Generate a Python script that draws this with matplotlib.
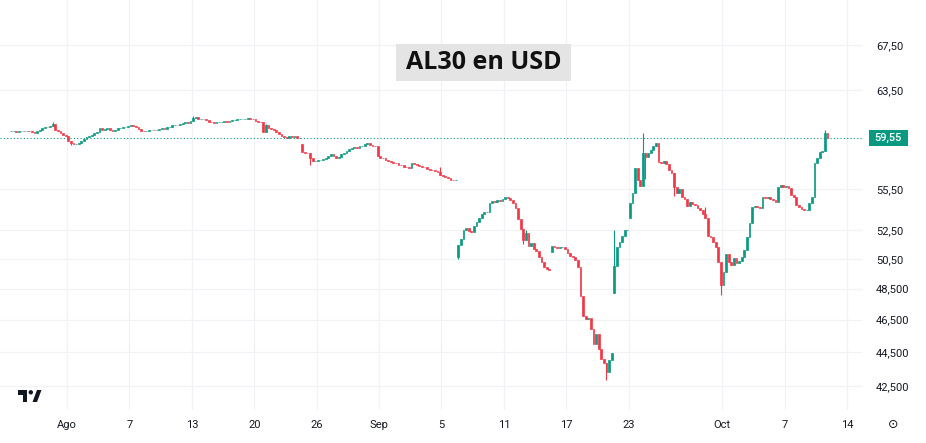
import matplotlib
matplotlib.use("Agg")
import matplotlib.pyplot as plt
from matplotlib.patches import Rectangle, Polygon, Circle
from matplotlib.transforms import IdentityTransform
from matplotlib.ticker import FixedLocator, NullLocator, NullFormatter

plt.rcParams['font.family'] = ['Roboto', 'DejaVu Sans']

# ---------------- data (hourly candles, 6 per session) ----------------
sessions = ["07-28", "07-29", "07-30", "07-31", "08-01", "08-04", "08-05", "08-06", "08-07",
            "08-08", "08-11", "08-12", "08-13", "08-14", "08-18", "08-19", "08-20", "08-21",
            "08-22", "08-25", "08-26", "08-27", "08-28", "08-29", "09-01", "09-02", "09-03",
            "09-04", "09-05", "09-08", "09-09", "09-10", "09-11", "09-12", "09-15", "09-16",
            "09-17", "09-18", "09-19", "09-22", "09-23", "09-24", "09-25", "09-26", "09-29",
            "09-30", "10-01", "10-02", "10-03", "10-06", "10-07", "10-08", "10-09", "10-13",
            "10-14"]

closes = [
    [60.05, 60.08, 60.02, 60.05],
    [60.08, 60.05, 60.10, 60.05, 60.00, 59.95],
    [60.05, 60.20, 60.35, 60.45, 60.40, 60.50],
    [60.70, 60.15, 60.05, 59.95, 59.80, 59.65],
    [59.30, 59.10, 59.00, 59.05, 59.10, 59.25],
    [59.45, 59.60, 59.70, 59.80, 59.90, 60.00],
    [60.30, 60.20, 60.25, 60.30, 60.20, 60.05],
    [60.20, 60.30, 60.35, 60.40, 60.45, 60.50],
    [60.55, 60.50, 60.40, 60.25, 60.10, 60.05],
    [60.10, 60.15, 60.20, 60.15, 60.20, 60.25],
    [60.30, 60.25, 60.40, 60.45, 60.55, 60.60],
    [60.55, 60.70, 60.75, 60.80, 60.75, 60.90],
    [61.15, 61.20, 61.10, 61.10, 61.05, 61.00],
    [60.85, 60.80, 60.75, 60.80, 60.80, 60.85],
    [60.90, 60.85, 60.95, 61.00, 61.00, 61.05],
    [61.05, 61.10, 61.10, 61.15, 61.10, 61.05],
    [60.90, 60.85, 60.80, 60.00, 60.60, 60.35],
    [60.25, 60.15, 60.00, 59.85, 59.70, 59.60],
    [59.55, 59.70, 59.60, 59.65, 59.55, 59.55],
    [58.40, 58.35, 58.30, 57.90, 57.65, 57.70],
    [57.75, 57.80, 57.85, 57.90, 58.10, 58.20],
    [58.05, 57.95, 58.00, 58.20, 58.35, 58.50],
    [58.60, 58.70, 58.80, 58.75, 58.85, 58.90],
    [59.05, 59.10, 58.95, 58.90, 58.85, 58.10],
    [57.95, 57.90, 57.80, 57.70, 57.60, 57.55],
    [57.50, 57.40, 57.35, 57.25, 57.20, 57.15],
    [57.55, 57.45, 57.35, 57.30, 57.25, 57.20],
    [57.05, 57.00, 56.95, 56.90, 56.85, 56.60],
    [56.55, 56.45, 56.35, 56.25, 56.20, 56.25],
    [51.45, 51.90, 52.55, 52.65, 52.45, 52.35],
    [52.80, 53.10, 53.40, 53.65, 53.80, 53.85],
    [54.45, 54.60, 54.55, 54.70, 54.65, 54.80],
    [54.95, 54.85, 54.70, 54.50, 54.10, 53.30],
    [52.60, 51.80, 52.30, 51.40, 51.60, 51.20],
    [51.05, 50.65, 50.30, 49.95, 49.80, 49.75],
    [51.40, 51.30, 51.25, 51.30, 51.35, 51.20],
    [50.90, 50.70, 50.60, 50.40, 49.95, 48.00],
    [46.70, 46.55, 46.60, 45.90, 45.00, 45.60],
    [44.70, 44.10, 43.85, 43.30, 44.00, 44.45],
    [49.98, 51.35, 51.65, 52.10, 52.50, 52.55],
    [54.50, 55.20, 57.17, 56.20, 55.75, 58.30],
    [58.00, 58.30, 58.58, 58.90, 59.10, 57.60],
    [57.55, 57.65, 57.45, 57.00, 56.75, 55.70],
    [55.20, 55.50, 54.95, 54.75, 54.25, 54.55],
    [54.40, 54.30, 54.10, 53.95, 53.70, 53.35],
    [52.10, 52.05, 51.65, 51.30, 50.30, 48.75],
    [49.60, 50.85, 50.30, 50.10, 50.55, 50.20],
    [50.35, 50.60, 51.10, 52.05, 53.05, 54.20],
    [54.25, 54.20, 54.15, 54.95, 54.85, 54.95],
    [54.75, 54.70, 54.55, 55.70, 55.85, 55.65],
    [55.75, 55.60, 55.10, 54.90, 54.30, 54.20],
    [54.05, 53.95, 54.00, 54.50, 54.95, 57.50],
    [57.95, 58.40, 58.45, 59.90, 59.55],
]

gap_opens = {"08-25": 59.05, "09-08": 50.60, "09-16": 51.00, "09-22": 48.20, "09-23": 53.35}

wick_highs = {("07-31", 0): 60.80, ("08-13", 0): 61.30, ("08-20", 4): 60.70,
              ("09-04", 5): 57.20, ("09-12", 2): 52.50, ("09-22", 0): 52.55,
              ("09-23", 5): 59.90, ("09-29", 5): 54.20, ("10-09", 3): 60.20}
wick_lows = {("08-01", 1): 58.95, ("08-25", 3): 57.40, ("09-08", 0): 50.50,
             ("09-19", 3): 42.86, ("09-24", 0): 56.30, ("09-25", 5): 55.00,
             ("09-30", 5): 48.10, ("09-12", 1): 51.50}

tick_sessions = ["08-01", "08-07", "08-13", "08-20", "08-26", "09-01", "09-05", "09-11",
                 "09-17", "09-23", "10-01", "10-07", "10-14"]
tick_labels = ["Ago", "7", "13", "20", "26", "Sep", "5", "11", "17", "23", "Oct", "7", "14"]

price_ticks = [67.5, 63.5, 55.5, 52.5, 50.5, 48.5, 46.5, 44.5, 42.5]
price_labels = ["67,50", "63,50", "55,50", "52,50", "50,50", "48,500", "46,500", "44,500", "42,500"]

last_price = 59.55
last_label = "59,55"
title = "AL30 en USD"

# ---------------- style ----------------
UP = "#089981"
DOWN = "#f23645"
TXT = "#131722"
GRID = "#f0f2f6"
PER = 6

W, H = 926, 443
fig = plt.figure(figsize=(W / 100, H / 100), dpi=100)
fig.patch.set_facecolor("white")
ax = fig.add_axes([0, 1 - 410 / H, 862 / W, 410 / H])

prev = None
for d, day in enumerate(sessions[:len(closes)]):
    vals = closes[d]
    off = PER - len(vals) if d == 0 else 0
    for i, cl in enumerate(vals):
        if i == 0 and day in gap_opens:
            op = gap_opens[day]
        else:
            op = prev if prev is not None else cl
        x = d * PER + i + off
        col = UP if cl >= op else DOWN
        hi = max(op, cl, wick_highs.get((day, i), 0))
        lo = min(op, cl, wick_lows.get((day, i), 1e9))
        if hi > max(op, cl) or lo < min(op, cl):
            ax.vlines(x, lo, hi, color=col, lw=0.8, zorder=3)
        ax.bar(x, abs(cl - op), bottom=min(op, cl), width=0.72, color=col,
               edgecolor=col, linewidth=0.5, zorder=4)
        prev = cl

ax.set_yscale("log")
ax.set_ylim(41.12, 71.8)
ax.set_xlim(-2.27, 329.27)

ax.yaxis.set_major_locator(FixedLocator(price_ticks))
ax.yaxis.set_minor_locator(NullLocator())
ax.yaxis.set_minor_formatter(NullFormatter())
ax.set_yticklabels(price_labels)
ax.yaxis.tick_right()
ax.tick_params(axis="y", length=0, pad=10, labelsize=8, labelcolor=TXT)

xt = [sessions.index(t) * PER - 0.5 for t in tick_sessions]
ax.set_xticks(xt)
ax.set_xticklabels(tick_labels)
ax.tick_params(axis="x", length=0, pad=7, labelsize=8, labelcolor=TXT)

ax.grid(True, color=GRID, lw=0.9, zorder=0)
for s in ax.spines.values():
    s.set_visible(False)

ax.axhline(last_price, color=UP, lw=0.8, ls=(0, (1, 2)), zorder=2)

# last price badge
yd = ax.transData.transform((0, last_price))[1]
fig.add_artist(Rectangle((869, yd - 8), 38.5, 16, transform=IdentityTransform(),
                         facecolor=UP, edgecolor="none"))
fig.text(888.3 / W, yd / H, last_label, color="white", fontsize=8, ha="center",
         va="center", fontweight="medium")

# title box
fig.add_artist(Rectangle((396, H - 80.7), 175, 36.7, transform=IdentityTransform(),
                         facecolor="#e4e4e4", edgecolor="none"))
fig.text(483.5 / W, (H - 62.4) / H, title, fontsize=18, fontweight="bold",
         family=["Open Sans", "DejaVu Sans"], color="#111111", ha="center", va="center")

# TradingView-like logo
fig.add_artist(Rectangle((18, H - 394.5), 9, 4.5, transform=IdentityTransform(),
                         facecolor=TXT, edgecolor="none"))
fig.add_artist(Rectangle((22.5, H - 402), 4.5, 12, transform=IdentityTransform(),
                         facecolor=TXT, edgecolor="none"))
fig.add_artist(Circle((30.8, H - 392.3), 2.2, transform=IdentityTransform(),
                      facecolor=TXT, edgecolor="none"))
fig.add_artist(Polygon([(32.5, H - 402), (37, H - 402), (41.5, H - 390), (37, H - 390)],
                       closed=True, transform=IdentityTransform(),
                       facecolor=TXT, edgecolor="none"))

fig.text(893 / W, 1 - 424 / H, "\u2299", fontsize=9, color=TXT, ha="center", va="center")

fig.savefig("out.png", dpi=100)
